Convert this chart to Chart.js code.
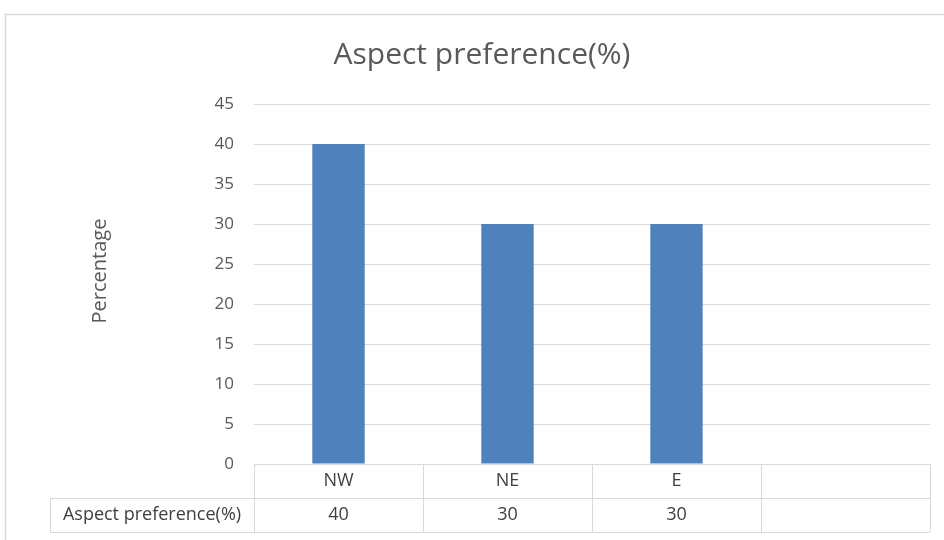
<!DOCTYPE html>
<html>
<head>
<meta charset="utf-8">
<script src="https://cdn.jsdelivr.net/npm/chart.js@4/dist/chart.umd.min.js"></script>
<style>
  html, body { margin: 0; padding: 0; background: #ffffff; }
  #wrap { width: 944px; height: 540px; position: relative; }
</style>
</head>
<body>
<div id="wrap"><canvas id="c" width="944" height="540"></canvas></div>
<script>
// Chart data
const categories = ['NW', 'NE', 'E', ''];
const seriesName = 'Aspect preference(%)';
const seriesValues = [40, 30, 30, null];
const yTicks = [0, 5, 10, 15, 20, 25, 30, 35, 40, 45];
const yAxisTitle = 'Percentage';

const FONT = "'Open Sans', 'Liberation Sans', sans-serif";
const TEXT = '#595959';
const LINE = '#d9d9d9';

// Frame, vertical axis title and the data table under the plot
const tablePlugin = {
  id: 'dataTable',
  afterDraw(chart) {
    const ctx = chart.ctx;
    const x = chart.scales.x;
    const area = chart.chartArea;
    const n = categories.length;
    const colW = (area.right - area.left) / n;
    const rowH = 34;
    const top = area.bottom;
    const mid = top + rowH;
    const bot = mid + rowH;
    const headerLeft = 50;

    ctx.save();
    // outer frame
    ctx.strokeStyle = LINE;
    ctx.lineWidth = 1.5;
    ctx.beginPath();
    ctx.moveTo(5.5, 540);
    ctx.lineTo(5.5, 14.5);
    ctx.lineTo(944, 14.5);
    ctx.stroke();

    // axis title
    ctx.save();
    ctx.translate(100, 271);
    ctx.rotate(-Math.PI / 2);
    ctx.fillStyle = TEXT;
    ctx.font = '20px ' + FONT;
    ctx.textAlign = 'center';
    ctx.textBaseline = 'middle';
    ctx.fillText(yAxisTitle, 0, 0);
    ctx.restore();

    ctx.lineWidth = 1;
    ctx.strokeStyle = LINE;
    ctx.beginPath();
    // horizontal rules
    ctx.moveTo(area.left, top + 0.5); ctx.lineTo(area.right, top + 0.5);
    ctx.moveTo(headerLeft, mid + 0.5); ctx.lineTo(area.right, mid + 0.5);
    ctx.moveTo(headerLeft, bot + 0.5); ctx.lineTo(area.right, bot + 0.5);
    // vertical rules
    for (let i = 0; i <= n; i++) {
      const px = Math.round(area.left + i * colW) + 0.5;
      ctx.moveTo(px, top); ctx.lineTo(px, bot);
    }
    ctx.moveTo(headerLeft + 0.5, mid); ctx.lineTo(headerLeft + 0.5, bot);
    ctx.stroke();

    ctx.fillStyle = '#404040';
    ctx.font = '18px ' + FONT;
    ctx.textAlign = 'center';
    ctx.textBaseline = 'middle';
    categories.forEach((c, i) => {
      const cx = x.getPixelForValue(i);
      ctx.fillText(c, cx, top + rowH / 2);
      const v = seriesValues[i];
      if (v !== null && v !== undefined) ctx.fillText(String(v), cx, mid + rowH / 2);
    });
    ctx.fillText(seriesName, (headerLeft + area.left) / 2, mid + rowH / 2);
    ctx.restore();
  }
};

new Chart(document.getElementById('c'), {
  type: 'bar',
  data: {
    labels: categories,
    datasets: [{
      label: seriesName,
      data: seriesValues,
      backgroundColor: '#4f81bd',
      borderWidth: 0,
      categoryPercentage: 1,
      barPercentage: 0.31
    }]
  },
  options: {
    responsive: false,
    animation: false,
    layout: { padding: { left: 34, right: 14, top: 0, bottom: 76 } },
    plugins: {
      legend: { display: false },
      tooltip: { enabled: false },
      title: {
        display: true,
        text: seriesName,
        color: TEXT,
        font: { family: FONT, size: 30, weight: 'normal' },
        padding: { top: 37, bottom: 31 }
      }
    },
    scales: {
      x: {
        display: false
      },
      y: {
        min: 0,
        max: 45,
        afterBuildTicks(scale) {
          scale.ticks = yTicks.map(v => ({ value: v }));
        },
        afterFit(scale) { scale.width = 220; },
        border: { display: false },
        grid: { color: LINE, lineWidth: 1, drawTicks: false },
        ticks: {
          color: TEXT,
          padding: 20,
          font: { family: FONT, size: 17 }
        },
        title: { display: false }
      }
    }
  },
  plugins: [tablePlugin]
});
</script>
</body>
</html>
